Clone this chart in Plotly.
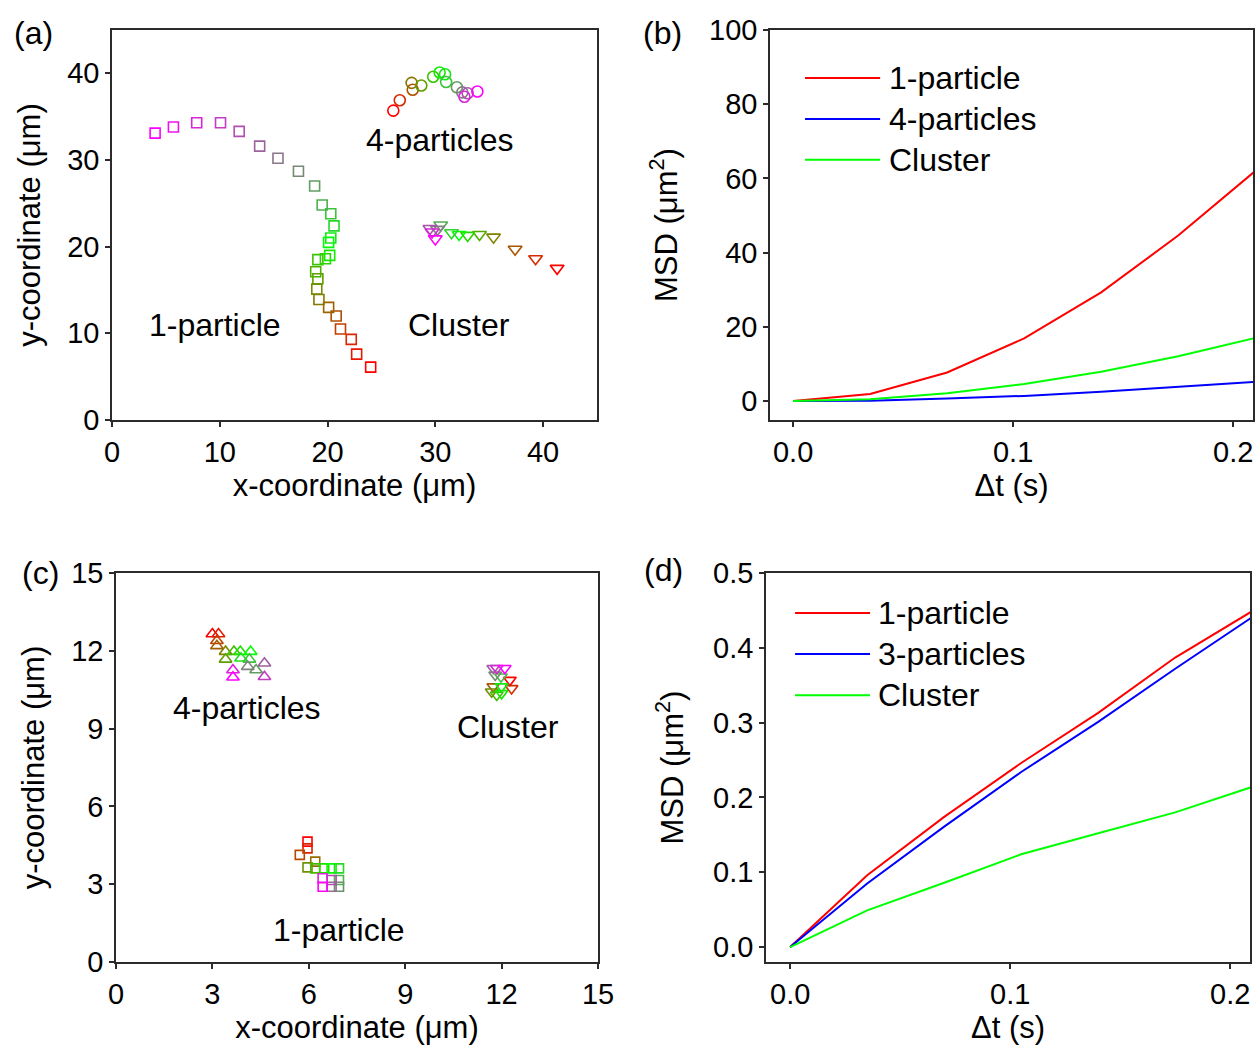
import plotly.graph_objects as go

# ---------------- data ----------------
# (a) trajectories (um)
a_p1_x = [24.0, 22.7, 22.2, 21.2, 20.8, 20.1, 19.2, 19.0, 19.1, 18.9, 19.1, 19.8, 20.2, 20.1,
          20.3, 20.6, 20.3, 19.5, 18.8, 17.3, 15.4, 13.7, 11.8, 10.07, 7.86, 5.7, 4.0]
a_p1_y = [6.1, 7.6, 9.3, 10.5, 12.0, 13.0, 13.9, 15.1, 16.3, 17.1, 18.5, 18.6, 19.0, 20.5,
          21.0, 22.4, 23.8, 24.8, 27.0, 28.7, 30.2, 31.6, 33.3, 34.3, 34.3, 33.8, 33.1]
a_p4_x = [26.1, 26.7, 27.9, 27.8, 28.7, 29.8, 30.4, 30.9, 31.0, 32.0, 32.5, 33.0, 32.7, 33.9]
a_p4_y = [35.7, 36.9, 38.1, 38.9, 38.6, 39.6, 40.1, 39.9, 39.0, 38.4, 37.8, 37.7, 37.3, 37.9]
a_cl_x = [41.3, 39.3, 37.4, 35.4, 34.1, 33.0, 32.2, 31.5, 30.5, 30.2, 29.5, 29.7, 30.0]
a_cl_y = [17.5, 18.6, 19.7, 21.1, 21.4, 21.3, 21.4, 21.6, 22.5, 22.0, 22.1, 21.7, 20.9]

# (b) MSD (um^2)
dt = [0.0, 0.035, 0.07, 0.105, 0.14, 0.175, 0.21]
b_p1 = [0.0, 1.9, 7.7, 16.9, 29.3, 44.6, 62.0]
b_p4 = [0.0, 0.1, 0.7, 1.4, 2.5, 3.9, 5.2]
b_cl = [0.0, 0.5, 2.1, 4.6, 7.9, 12.1, 17.0]

# (c) trajectories (um)
c_p1_x = [5.96, 5.96, 5.72, 6.2, 5.96, 6.2, 6.48, 6.71, 6.94, 6.94, 6.94, 6.71, 6.71, 6.43, 6.43]
c_p1_y = [4.64, 4.38, 4.13, 3.87, 3.65, 3.61, 3.61, 3.61, 3.61, 3.16, 2.9, 2.9, 3.16, 3.23, 2.9]
c_p4_x = [3.0, 3.19, 3.14, 3.14, 3.41, 3.41, 3.67, 3.87, 4.19, 3.89, 4.15, 4.36, 4.10, 4.62, 4.62, 3.64, 3.64]
c_p4_y = [12.65, 12.65, 12.39, 12.19, 11.97, 11.67, 11.97, 11.97, 11.97, 11.71, 11.67, 11.26, 11.39,
          11.52, 11.0, 11.26, 10.98]
c_cl_x = [12.26, 12.31, 11.74, 11.69, 11.85, 12.0, 12.0, 11.98, 11.8, 11.74, 11.85, 12.1]
c_cl_y = [10.87, 10.55, 10.62, 10.42, 10.3, 10.36, 10.62, 11.0, 11.07, 11.33, 11.33, 11.33]

# (d) MSD (um^2)
d_p1 = [0.0, 0.096, 0.174, 0.246, 0.313, 0.387, 0.449]
d_p3 = [0.0, 0.085, 0.161, 0.234, 0.301, 0.372, 0.441]
d_cl = [0.0, 0.049, 0.086, 0.124, 0.152, 0.180, 0.214]

# ---------------- style ----------------
FONT = "Arial, Liberation Sans, sans-serif"
AX = "#2b2b2b"
TIME_SCALE = [[0.0, "rgb(255,0,0)"], [0.5, "rgb(0,255,0)"], [1.0, "rgb(255,0,255)"]]
RED, BLUE, GREEN = "rgb(255,0,0)", "rgb(0,0,255)", "rgb(0,255,0)"

fig = go.Figure()


def traj(x, y, symbol, size, xa, ya):
    n = len(x)
    fig.add_trace(go.Scatter(
        x=x, y=y, mode="markers", xaxis=xa, yaxis=ya, showlegend=False,
        marker=dict(symbol=symbol, size=size, color=list(range(n)), colorscale=TIME_SCALE,
                    cmin=0, cmax=n - 1, line=dict(width=1.6)),
    ))


traj(a_p1_x, a_p1_y, "square-open", 10, "x", "y")
traj(a_p4_x, a_p4_y, "circle-open", 11, "x", "y")
traj(a_cl_x, a_cl_y, "triangle-down-open", 12, "x", "y")

traj(c_p1_x, c_p1_y, "square-open", 9, "x3", "y3")
traj(c_p4_x, c_p4_y, "triangle-up-open", 11, "x3", "y3")
traj(c_cl_x, c_cl_y, "triangle-down-open", 11, "x3", "y3")

for ys, col, name in [(b_p1, RED, "1-particle"), (b_p4, BLUE, "4-particles"), (b_cl, GREEN, "Cluster")]:
    fig.add_trace(go.Scatter(x=dt, y=ys, mode="lines", name=name, xaxis="x2", yaxis="y2",
                             showlegend=False, line=dict(color=col, width=2)))
for ys, col, name in [(d_p1, RED, "1-particle"), (d_p3, BLUE, "3-particles"), (d_cl, GREEN, "Cluster")]:
    fig.add_trace(go.Scatter(x=dt, y=ys, mode="lines", name=name, xaxis="x4", yaxis="y4",
                             showlegend=False, line=dict(color=col, width=2)))


def axis(domain, rng, title, anchor, dtick, fmt=None, standoff=10):
    d = dict(domain=domain, range=rng, anchor=anchor, dtick=dtick, tick0=0, automargin=False,
             showline=True, mirror=True, linecolor=AX, linewidth=1.5,
             ticks="outside", ticklen=5, tickwidth=1.5, tickcolor=AX,
             showgrid=False, zeroline=False,
             tickfont=dict(family=FONT, size=29, color="black"),
             title=dict(text=title, font=dict(family=FONT, size=31, color="black"), standoff=standoff))
    if fmt:
        d["tickformat"] = fmt
    return d


W, H = 1257, 1048


def fx(px):
    return px / W


def fy(py):
    return 1 - py / H


ya_dom = [fy(420), fy(30)]
yc_dom = [fy(962), fy(573)]

fig.update_layout(
    width=W, height=H, margin=dict(l=0, r=0, t=0, b=0, autoexpand=False),
    paper_bgcolor="white", plot_bgcolor="white",
    font=dict(family=FONT, color="black"),
    xaxis=axis([fx(112), fx(597)], [0, 45], "x-coordinate (μm)", "y", 10, standoff=6),
    yaxis=axis(ya_dom, [0, 45], "y-coordinate (μm)", "x", 10, standoff=17),
    xaxis2=axis([fx(770), fx(1253)], [-0.0105, 0.209], "Δt (s)", "y2", 0.1, ".1f", standoff=6),
    yaxis2=axis(ya_dom, [-5.1, 100], "MSD (μm<sup>2</sup>)", "x2", 20, standoff=22),
    xaxis3=axis([fx(116), fx(598)], [0, 15], "x-coordinate (μm)", "y3", 3, standoff=6),
    yaxis3=axis(yc_dom, [0, 15], "y-coordinate (μm)", "x3", 3, standoff=17),
    xaxis4=axis([fx(766), fx(1250)], [-0.011, 0.209], "Δt (s)", "y4", 0.1, ".1f", standoff=6),
    yaxis4=axis(yc_dom, [-0.02, 0.5], "MSD (μm<sup>2</sup>)", "x4", 0.1, ".1f", standoff=20),
)

ann = []
shapes = []
TXT = dict(family=FONT, size=32, color="black")

# panel letters
for txt, px, py in [("(a)", 33, 33), ("(b)", 662, 33), ("(c)", 40, 573), ("(d)", 663, 570)]:
    ann.append(dict(text=txt, x=fx(px), y=fy(py), xref="paper", yref="paper",
                    showarrow=False, font=TXT, xanchor="center", yanchor="middle"))

# in-plot labels
for txt, x, y, xa, ya in [("1-particle", 9.6, 11.0, "x", "y"), ("4-particles", 30.4, 32.3, "x", "y"),
                          ("Cluster", 32.2, 11.0, "x", "y"),
                          ("4-particles", 4.09, 9.8, "x3", "y3"), ("Cluster", 12.2, 9.06, "x3", "y3"),
                          ("1-particle", 6.94, 1.23, "x3", "y3")]:
    ann.append(dict(text=txt, x=x, y=y, xref=xa, yref=ya, showarrow=False, font=TXT,
                    xanchor="center", yanchor="middle"))

# custom legends
LEG = dict(family=FONT, size=32, color="black")
for xa, ya, x0, x1, xt, rows in [
    ("x2", "y2", 0.0725, 0.228, 0.242, [(0.877, RED, "1-particle"), (0.772, BLUE, "4-particles"),
                                       (0.667, GREEN, "Cluster")]),
    ("x4", "y4", 0.060, 0.215, 0.227, [(0.897, RED, "1-particle"), (0.792, BLUE, "3-particles"),
                                      (0.686, GREEN, "Cluster")]),
]:
    for yy, col, name in rows:
        shapes.append(dict(type="line", xref=f"{xa} domain", yref=f"{ya} domain",
                           x0=x0, x1=x1, y0=yy, y1=yy, line=dict(color=col, width=2)))
        ann.append(dict(text=name, x=xt, y=yy, xref=f"{xa} domain", yref=f"{ya} domain",
                        showarrow=False, font=LEG, xanchor="left", yanchor="middle"))

fig.update_layout(annotations=ann, shapes=shapes)
# remove the default page margin so the figure fills the window exactly
fig.write_html("out.html", config={"displayModeBar": False},
               post_script="document.body.style.margin='0px';document.body.style.overflow='hidden';")
